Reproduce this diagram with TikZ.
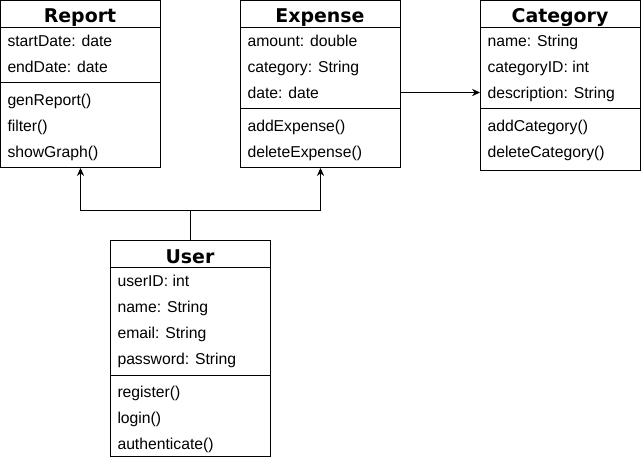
\documentclass[tikz,border=0pt]{standalone}
\usepackage{fontspec}
\setmainfont{Liberation Sans}
\newfontfamily\titlefont{DejaVu Sans}
\usetikzlibrary{arrows.meta}

\begin{document}
\begin{tikzpicture}[x=0.75pt,y=-0.75pt,line width=0.75pt,
	classbox/.style={draw,minimum width=120pt,inner sep=0pt},
	classname/.style={anchor=base,inner sep=0pt,font=\titlefont\bfseries\fontsize{14.2}{16}\selectfont},
	member/.style={anchor=base west,inner sep=0pt,font=\fontsize{11.8}{14}\selectfont},
	arr/.style={-{Stealth[length=6pt,width=5.5pt]}}]
	\useasboundingbox (0,0) rectangle (641,458);

	% Report
	\node[classbox,minimum height=125.25pt] (report) at (80.5,84) {};
	\node[classname] (reportname) at (80,22.5) {Report};
	\draw (0.5,27) -- (160.5,27);
	\draw (0.5,82) -- (160.5,82);
	\node[member] (repstart) at (7,46) {startDate: date};
	\node[member] (repend) at (7,72) {endDate: date};
	\node[member] (repgen) at (7,105) {genReport()};
	\node[member] (repfilter) at (7,131) {filter()};
	\node[member] (repgraph) at (7,157) {showGraph()};

	% Expense
	\node[classbox,minimum height=125.25pt] (expense) at (320.5,84) {};
	\node[classname] (expensename) at (320,22.5) {Expense};
	\draw (240.5,27) -- (400.5,27);
	\draw (240.5,108) -- (400.5,108);
	\node[member] (expamount) at (247,46) {amount: double};
	\node[member] (expcat) at (247,72) {category: String};
	\node[member] (expdate) at (247,98) {date: date};
	\node[member] (expadd) at (247,131) {addExpense()};
	\node[member] (expdel) at (247,157) {deleteExpense()};

	% Category
	\node[classbox,minimum height=127.5pt] (category) at (560.5,85.5) {};
	\node[classname] (categoryname) at (560,22.5) {Category};
	\draw (480.5,27) -- (640.5,27);
	\draw (480.5,108) -- (640.5,108);
	\node[member] (catname) at (487,46) {name: String};
	\node[member] (catid) at (487,72) {categoryID: int};
	\node[member] (catdesc) at (487,98) {description: String};
	\node[member] (catadd) at (487,131) {addCategory()};
	\node[member] (catdel) at (487,157) {deleteCategory()};

	% User
	\node[classbox,minimum height=162pt] (user) at (190.5,348.5) {};
	\node[classname] (username) at (190,263) {User};
	\draw (110.5,267) -- (270.5,267);
	\draw (110.5,375) -- (270.5,375);
	\node[member] (userid) at (117,286) {userID: int};
	\node[member] (username2) at (117,312) {name: String};
	\node[member] (useremail) at (117,338) {email: String};
	\node[member] (userpass) at (117,364) {password: String};
	\node[member] (userreg) at (117,397) {register()};
	\node[member] (userlogin) at (117,423) {login()};
	\node[member] (userauth) at (117,449) {authenticate()};

	% connectors
	\coordinate (junc) at (190.5,210.5);
	\draw[arr] (user.north) -- (junc) -| (report.south);
	\draw[arr] (junc) -| (expense.south);
	\draw[arr] (expense.east |- 0,92.5) -- (category.west |- 0,92.5);
\end{tikzpicture}
\end{document}
